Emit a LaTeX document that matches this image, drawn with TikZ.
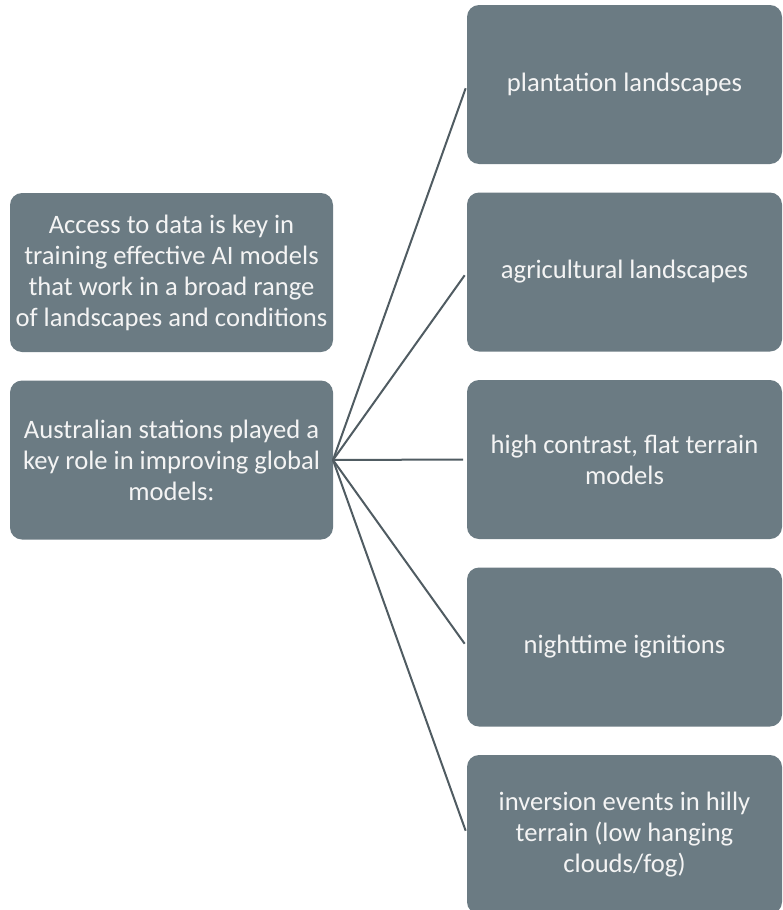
\documentclass[tikz,border=0pt]{standalone}
\usepackage{fontspec}
\setmainfont{Carlito}
\usetikzlibrary{positioning}
\definecolor{BoxGrey}{HTML}{6B7B83}
\definecolor{LineGrey}{HTML}{505C62}
\definecolor{TextWhite}{HTML}{F4F4F4}
\tikzstyle{infobox} = [rectangle, rounded corners=12pt, minimum width=323pt, minimum height=159pt, inner sep=0pt, outer sep=0pt, text centered, align=center, fill=BoxGrey, text=TextWhite, font=\fontsize{26.6}{31}\selectfont]
\tikzstyle{landbox} = [infobox, minimum width=315pt]
\tikzstyle{link} = [line width=2pt, draw=LineGrey, shorten >=4pt]

\begin{document}
\begin{tikzpicture}[x=1pt, y=-1pt, node distance=28.5pt]
\useasboundingbox (0,0) rectangle (782,910);

\node (src1) [infobox] at (171.5,272.5) {Access to data is key in\\training effective AI models\\that work in a broad range\\of landscapes and conditions};

\node (src2) [infobox, below=of src1] {Australian stations played a\\key role in improving global\\models:};

\node (land1) [landbox] at (624.5,84.5) {plantation landscapes};

\node (land2) [landbox, below=of land1] {agricultural landscapes};

\node (land3) [landbox, below=of land2] {high contrast, flat terrain\\models};

\node (land4) [landbox, below=of land3] {nighttime ignitions};

\node (land5) [landbox, below=of land4] {inversion events in hilly\\terrain (low hanging\\clouds/fog)};

\draw [link] (src2.east) -- (land1.west);
\draw [link] (src2.east) -- (land2.west);
\draw [link] (src2.east) -- (land3.west);
\draw [link] (src2.east) -- (land4.west);
\draw [link] (src2.east) -- (land5.west);

\end{tikzpicture}
\end{document}
